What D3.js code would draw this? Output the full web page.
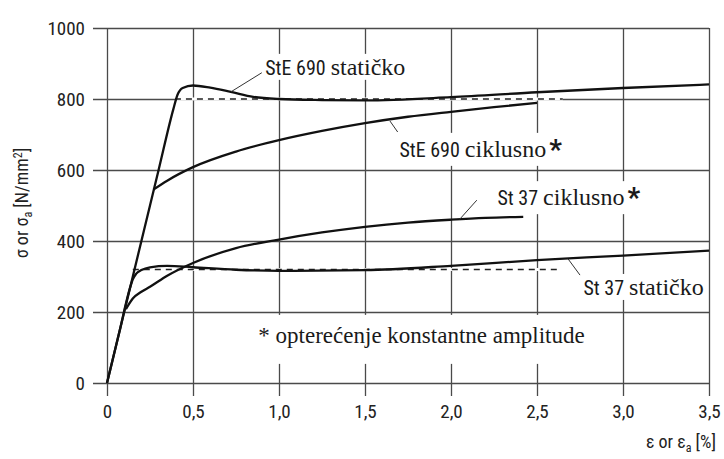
<!DOCTYPE html>
<html>
<head>
  <script src="https://d3js.org/d3.v7.min.js"></script>
</head>
<body style="margin:0; background:#fff">
  <svg id="chart" width="724" height="459" font-family="Liberation Serif"></svg>
  <script>
    // strain in %, stress in N/mm2
    var ste690Static = [[0, 0], [0.1, 200], [0.2, 400], [0.3, 600], [0.385, 770], [0.41, 812], [0.44, 831],
      [0.5, 838], [0.6, 832], [0.72, 820], [0.85, 806], [1.0, 800], [1.25, 797], [1.5, 796], [2.0, 805],
      [2.5, 819], [3.0, 831], [3.5, 841]];
    var ste690Cyclic = [[0.27, 545], [0.35, 570], [0.5, 608], [0.75, 652], [1.0, 684], [1.25, 710], [1.5, 732],
      [1.75, 750], [2.0, 764], [2.25, 777], [2.5, 789]];
    var st37Static = [[0, 0], [0.07, 140], [0.135, 270], [0.15, 292], [0.17, 308], [0.2, 318], [0.25, 326],
      [0.35, 330], [0.5, 326], [0.75, 319], [1.0, 316], [1.5, 318], [2.0, 330], [2.5, 346], [3.0, 359], [3.5, 373]];
    var st37Cyclic = [[0.11, 208], [0.15, 238], [0.2, 257], [0.25, 271], [0.35, 302], [0.5, 338], [0.75, 380],
      [1.0, 404], [1.25, 424], [1.5, 440], [1.75, 452], [2.0, 460], [2.2, 465], [2.42, 468]];
    var ste690Yield = [[0.395, 800], [2.65, 800]];
    var st37Yield = [[0.15, 320], [2.62, 320]];

    var xTicks = [0, 0.5, 1.0, 1.5, 2.0, 2.5, 3.0, 3.5];
    var xTickLabels = ['0', '0,5', '1,0', '1,5', '2,0', '2,5', '3,0', '3,5'];
    var yTicks = [0, 200, 400, 600, 800, 1000];
    var yTickLabels = ['0', '200', '400', '600', '800', '1000'];

    var SANS = '"Roboto Condensed"';
    var SERIF = '"Liberation Serif"';

    var margin = { left: 107, top: 28, right: 15, bottom: 76 };
    var width = 724 - margin.left - margin.right;
    var height = 459 - margin.top - margin.bottom;

    var x = d3.scaleLinear().domain([0, 3.5]).range([margin.left, margin.left + width]);
    var y = d3.scaleLinear().domain([0, 1000]).range([margin.top + height, margin.top]);

    var svg = d3.select('#chart');

    function styleGrid(g) {
      g.attr('font-family', null).attr('font-size', null);
      g.select('.domain').remove();
      g.selectAll('line').attr('stroke', '#4a4a4a').attr('stroke-width', 1.3);
      g.selectAll('text').attr('fill', '#222').style('font-family', SANS).style('font-size', '19px');
    }

    svg.append('g')
      .attr('transform', 'translate(' + (margin.left - 14) + ',0)')
      .call(d3.axisLeft(y).tickValues(yTicks).tickSizeInner(-(width + 14)).tickSizeOuter(0).tickPadding(8)
        .tickFormat(function (d, i) { return yTickLabels[i]; }))
      .call(styleGrid);

    svg.append('g')
      .attr('transform', 'translate(0,' + (margin.top + height + 13) + ')')
      .call(d3.axisBottom(x).tickValues(xTicks).tickSizeInner(-(height + 13)).tickSizeOuter(0).tickPadding(9)
        .tickFormat(function (d, i) { return xTickLabels[i]; }))
      .call(styleGrid);

    var labels = [
      { x: 0.92, y: 868, sans: 'StE 690', serif: 'statičko', star: false },
      { x: 1.70, y: 637, sans: 'StE 690', serif: 'ciklusno', star: true },
      { x: 2.27, y: 501, sans: 'St 37', serif: 'ciklusno', star: true },
      { x: 2.77, y: 248, sans: 'St 37', serif: 'statičko', star: false }
    ];
    var leaders = [
      [[0.72, 820], [0.9, 874]],
      [[1.645, 738], [1.69, 707]],
      [[2.05, 461], [2.15, 515]],
      [[2.68, 350], [2.75, 304]]
    ];

    var boxLayer = svg.append('g');
    var markLayer = svg.append('g');

    function addBox(nodes, padX, padTop, padBottom) {
      var x0 = Infinity, y0 = Infinity, x1 = -Infinity, y1 = -Infinity;
      nodes.forEach(function (n) {
        var b = n.getBBox();
        x0 = Math.min(x0, b.x); y0 = Math.min(y0, b.y);
        x1 = Math.max(x1, b.x + b.width); y1 = Math.max(y1, b.y + b.height);
      });
      boxLayer.append('rect').attr('x', x0 - padX).attr('y', y0 - padTop)
        .attr('width', x1 - x0 + 2 * padX).attr('height', y1 - y0 + padTop + padBottom).attr('fill', '#fff');
    }

    var line = d3.line().x(function (d) { return x(d[0]); }).y(function (d) { return y(d[1]); });
    var smooth = d3.line().x(function (d) { return x(d[0]); }).y(function (d) { return y(d[1]); }).curve(d3.curveMonotoneX);

    [ste690Yield, st37Yield].forEach(function (d) {
      markLayer.append('path').attr('d', line(d)).attr('fill', 'none').attr('stroke', '#fff').attr('stroke-width', 3);
      markLayer.append('path').attr('d', line(d)).attr('fill', 'none').attr('stroke', '#222')
        .attr('stroke-width', 1.5).attr('stroke-dasharray', '6 5');
    });

    [ste690Static, ste690Cyclic, st37Static, st37Cyclic].forEach(function (d) {
      markLayer.append('path').attr('d', smooth(d)).attr('fill', 'none').attr('stroke', '#111')
        .attr('stroke-width', 2.3).attr('stroke-linejoin', 'round');
    });

    leaders.forEach(function (d) {
      markLayer.append('line').attr('stroke', '#333').attr('stroke-width', 1)
        .attr('x1', x(d[0][0])).attr('y1', y(d[0][1])).attr('x2', x(d[1][0])).attr('y2', y(d[1][1]));
    });

    // serif texts sit directly on the svg so they take the root font
    var note = svg.append('text').attr('fill', '#1a1a1a')
      .attr('font-family', 'Liberation Serif').style('font-family', SERIF).style('font-size', '23px')
      .attr('x', x(0.88)).attr('y', y(113))
      .text('* opterećenje konstantne amplitude');
    addBox([note.node()], 4, 8, 16);

    labels.forEach(function (d) {
      var px = x(d.x), py = y(d.y);
      var a = svg.append('text').attr('fill', '#1a1a1a').attr('x', px).attr('y', py)
        .style('font-family', SANS).style('font-size', '20px').text(d.sans);
      var ax = px + a.node().getComputedTextLength() + 5;
      var b = svg.append('text').attr('fill', '#1a1a1a').attr('x', ax).attr('y', py)
        .attr('font-family', 'Liberation Serif').style('font-family', SERIF).style('font-size', '24px').text(d.serif);
      var parts = [a.node(), b.node()];
      if (d.star) {
        var s = svg.append('text').attr('fill', '#1a1a1a')
          .attr('x', ax + b.node().getComputedTextLength() + 3).attr('y', py + 2)
          .style('font-family', SANS).style('font-size', '28px').style('font-weight', 'bold').text('*');
        parts.push(s.node());
      }
      addBox(parts, 4, 0, 0);
    });

    var xt = svg.append('text').attr('fill', '#222').attr('text-anchor', 'end')
      .style('font-family', SANS).style('font-size', '18px')
      .attr('x', 716).attr('y', 448);
    xt.append('tspan').text('ε or ε');
    xt.append('tspan').attr('dy', 4).style('font-size', '12px').text('a');
    xt.append('tspan').attr('dy', -4).text(' [%]');

    var yt = svg.append('text').attr('fill', '#222').attr('text-anchor', 'middle')
      .style('font-family', SANS).style('font-size', '18px')
      .attr('transform', 'translate(28,203) rotate(-90)');
    yt.append('tspan').text('σ or σ');
    yt.append('tspan').attr('dy', 4).style('font-size', '12px').text('a');
    yt.append('tspan').attr('dy', -4).text(' [N/mm');
    yt.append('tspan').attr('dy', -6).style('font-size', '12px').text('2');
    yt.append('tspan').attr('dy', 6).text(']');
  </script>
</body>
</html>
